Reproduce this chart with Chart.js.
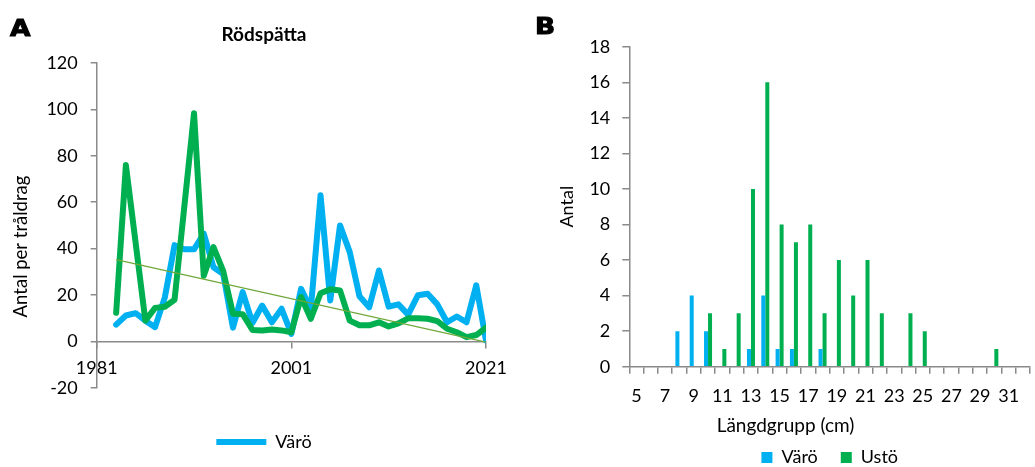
<!DOCTYPE html>
<html>
<head>
<meta charset="utf-8">
<script src="https://cdn.jsdelivr.net/npm/chart.js@4.4.1/dist/chart.umd.min.js"></script>
<style>
  html, body { margin: 0; padding: 0; background: #fff; overflow: hidden; width: 1035px; height: 467px; }
  #wrap { position: relative; width: 1035px; height: 467px; }
  canvas { position: absolute; top: 0; }
  #chartA { left: 0; }
  #chartB { left: 520px; }
  .tag {
    position: absolute;
    font-family: "DejaVu Sans", sans-serif;
    font-weight: bold;
    font-size: 23px;
    line-height: 1;
    color: #000;
    -webkit-text-stroke: 1px #000;
    transform: scaleX(1.15);
    transform-origin: left top;
  }
</style>
</head>
<body>
<div id="wrap">
  <canvas id="chartA" width="520" height="467"></canvas>
  <canvas id="chartB" width="515" height="480"></canvas>
  <div class="tag" style="left:10px;top:17px">A</div>
  <div class="tag" style="left:535px;top:15px">B</div>
</div>
<script>
"use strict";

// ---- Panel A: Rödspätta, antal per tråldrag ----
const YEARS = [1983, 1984, 1985, 1986, 1987, 1988, 1989, 1990, 1991, 1992,
  1993, 1994, 1995, 1996, 1997, 1998, 1999, 2000, 2001, 2002,
  2003, 2004, 2005, 2006, 2007, 2008, 2009, 2010, 2011, 2012,
  2013, 2014, 2015, 2016, 2017, 2018, 2019, 2020, 2021];
const VARO_A = [7.3, 11.2, 12.2, 9, 6.2, 19, 41.5, 39.7, 39.7, 46.5,
  32, 29, 6, 21.3, 8, 15.5, 8.3, 14.1, 3.3, 22.7,
  14, 63, 17.7, 50, 38.5, 19.5, 14.8, 30.6, 15, 16,
  11.6, 19.9, 20.6, 16, 8.3, 10.8, 8.3, 24.2, 0.5];
const USTO_A = [12.4, 76, 42.5, 9, 14.5, 15, 18, 58, 98.3, 28.3,
  40.7, 30.3, 12, 11.8, 5, 4.8, 5.2, 4.8, 4, 19.2,
  9.8, 20.8, 22.5, 22, 9, 7, 7, 8.3, 6.5, 7.8,
  10, 10, 9.8, 8.8, 5.5, 4, 1.9, 2.8, 6];
const TREND_YEARS = [1983, 2021];
const TREND_USTO = [35.3, -0.3];
const X_TICKS_A = [1981, 2001, 2021];

// ---- Panel B: längdfördelning ----
const LENGTHS = [5, 6, 7, 8, 9, 10, 11, 12, 13, 14, 15, 16, 17, 18,
  19, 20, 21, 22, 23, 24, 25, 26, 27, 28, 29, 30, 31, 32];
const VARO_B = [0, 0, 0, 2, 4, 2, 0, 0, 1, 4, 1, 1, 0, 1,
  0, 0, 0, 0, 0, 0, 0, 0, 0, 0, 0, 0, 0, 0];
const USTO_B = [0, 0, 0, 0, 0, 3, 1, 3, 10, 16, 8, 7, 8, 3,
  6, 4, 6, 3, 0, 3, 2, 0, 0, 0, 0, 1, 0, 0];

const BLUE = "#00B0F0";
const GREEN = "#00B050";
const TREND = "#6fa83a";
const AXIS = "#8a8a8a";
const FONT = "Lato, 'Open Sans', sans-serif";

Chart.defaults.font.family = FONT;
Chart.defaults.font.size = 18;
Chart.defaults.color = "#000";

const pairs = (xs, ys) => xs.map((x, i) => ({ x, y: ys[i] }));

// draws a text at a fixed spot (for titles Excel places off-centre)
function freeText(items) {
  return {
    id: "freeText",
    afterDraw(chart) {
      const ctx = chart.ctx;
      items.forEach((t) => {
        ctx.save();
        ctx.font = t.font;
        ctx.fillStyle = "#000";
        ctx.textAlign = "center";
        ctx.textBaseline = "alphabetic";
        ctx.translate(t.x, t.y);
        if (t.rotate) ctx.rotate(t.rotate);
        ctx.fillText(t.text, 0, 0);
        ctx.restore();
      });
    },
  };
}

const axisLine = { display: true, color: AXIS, width: 1.5 };
const tickMarks = { drawOnChartArea: false, color: AXIS, lineWidth: 1.5, tickLength: 6 };

new Chart(document.getElementById("chartA"), {
  type: "line",
  data: {
    datasets: [
      { label: "Trend", data: pairs(TREND_YEARS, TREND_USTO), borderColor: TREND,
        borderWidth: 1.3, pointRadius: 0, order: 0 },
      { label: "Ustö", data: pairs(YEARS, USTO_A), borderColor: GREEN, borderWidth: 6,
        pointRadius: 0, borderJoinStyle: "round", borderCapStyle: "round", order: 1 },
      { label: "Värö", data: pairs(YEARS, VARO_A), borderColor: BLUE, borderWidth: 6,
        pointRadius: 0, borderJoinStyle: "round", borderCapStyle: "round", order: 2 },
    ],
  },
  options: {
    responsive: false,
    animation: false,
    layout: { padding: { left: 42, right: 34, top: 0, bottom: 6 } },
    plugins: {
      title: {
        display: true,
        text: "Rödspätta",
        font: { size: 19, weight: "bold" },
        color: "#000",
        padding: { top: 23, bottom: 17 },
      },
      legend: {
        position: "bottom",
        labels: {
          filter: (item) => item.text === "Värö",
          usePointStyle: true,
          pointStyle: "line",
          pointStyleWidth: 50,
          padding: 45,
          font: { size: 18 },
        },
      },
      tooltip: { enabled: false },
    },
    scales: {
      x: {
        type: "linear",
        position: { y: 0 },
        min: 1981,
        max: 2021,
        afterBuildTicks: (s) => { s.ticks = X_TICKS_A.map((v) => ({ value: v })); },
        ticks: { callback: (v) => String(v), padding: 10, maxRotation: 0 },
        grid: tickMarks,
        border: axisLine,
      },
      y: {
        min: -20,
        max: 120,
        ticks: { stepSize: 20, padding: 13 },
        grid: tickMarks,
        border: axisLine,
        afterFit: (s) => { s.width = 96.7 - 42; },
      },
    },
  },
  plugins: [freeText([
    { text: "Antal per tråldrag", x: 26.5, y: 246.5, rotate: -Math.PI / 2, font: "18.5px " + FONT },
  ])],
});

new Chart(document.getElementById("chartB"), {
  type: "bar",
  data: {
    labels: LENGTHS,
    datasets: [
      { label: "Värö", data: VARO_B, backgroundColor: BLUE,
        categoryPercentage: 0.56, barPercentage: 1 },
      { label: "Ustö", data: USTO_B, backgroundColor: GREEN,
        categoryPercentage: 0.56, barPercentage: 1 },
    ],
  },
  options: {
    responsive: false,
    animation: false,
    layout: { padding: { left: 0, right: 1.5, top: 46.7, bottom: 3.5 } },
    plugins: {
      legend: {
        position: "bottom",
        fullSize: false,
        labels: { boxWidth: 11, boxHeight: 11, padding: 23, font: { size: 18 } },
      },
      tooltip: { enabled: false },
    },
    scales: {
      x: {
        ticks: {
          autoSkip: false,
          maxRotation: 0,
          padding: 12,
          callback: (v, i) => (i % 2 === 0 ? String(LENGTHS[i]) : ""),
        },
        grid: { ...tickMarks, tickLength: 7, offset: true },
        border: axisLine,
        afterFit: (s) => { s.height = 58.8; },
      },
      y: {
        min: 0,
        max: 18,
        ticks: { stepSize: 2, padding: 12 },
        grid: { ...tickMarks, tickLength: 7 },
        border: axisLine,
        title: { display: true, text: "Antal", font: { size: 18 }, padding: { top: 36.7, bottom: 0 } },
        afterFit: (s) => { s.width = 109.3; },
      },
    },
  },
  plugins: [freeText([
    { text: "Längdgrupp (cm)", x: 265.5, y: 431.7, font: "19px " + FONT },
  ])],
});
</script>
</body>
</html>
